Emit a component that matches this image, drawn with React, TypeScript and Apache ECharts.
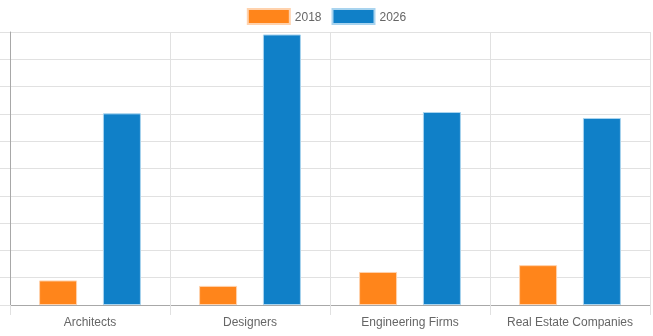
import React, { useEffect, useRef } from "react";
import * as echarts from "echarts";

const categories = ["Architects", "Designers", "Engineering Firms", "Real Estate Companies"];
const seriesNames = ["2018", "2026"];
const values2018 = [9, 7, 12.1, 14.6];
const values2026 = [70.2, 99.1, 70.7, 68.5];

export default function App() {
  const ref = useRef<HTMLDivElement>(null);
  useEffect(() => {
    if (!ref.current) return;
    const chart = echarts.init(ref.current, undefined, { renderer: "svg" });
    const gridColor = "#e1e1e1";
    const axisColor = "#a8a8a8";
    const font = "Arial, 'Liberation Sans', sans-serif";
    chart.setOption({
      animation: false,
      legend: {
        top: 3,
        left: "center",
        icon: "rect",
        itemWidth: 42,
        itemHeight: 15,
        itemGap: 10,
        textStyle: { color: "#666", fontSize: 12, fontFamily: font },
        data: seriesNames,
      },
      grid: { left: 10, right: 3, top: 32, bottom: 31, containLabel: false },
      xAxis: {
        type: "category",
        data: categories,
        axisLine: { show: true, lineStyle: { color: axisColor } },
        axisTick: { show: true, length: 10, lineStyle: { color: gridColor } },
        splitLine: { show: true, lineStyle: { color: gridColor } },
        axisLabel: { color: "#666", fontSize: 12, fontFamily: font, margin: 11, interval: 0 },
      },
      yAxis: {
        type: "value",
        min: 0,
        max: 100,
        interval: 10,
        axisLine: { show: true, lineStyle: { color: axisColor } },
        axisTick: { show: true, length: 10, lineStyle: { color: gridColor } },
        splitLine: { show: true, lineStyle: { color: gridColor } },
        axisLabel: { show: false },
      },
      series: [
        {
          name: seriesNames[0],
          type: "bar",
          data: values2018,
          barWidth: 38,
          barGap: "68%",
          itemStyle: { color: "#ff851b", borderColor: "#ffd2ad", borderWidth: 1 },
        },
        {
          name: seriesNames[1],
          type: "bar",
          data: values2026,
          barWidth: 38,
          barGap: "68%",
          itemStyle: { color: "#1080c8", borderColor: "#a9d4ef", borderWidth: 1 },
        },
      ],
    });
    return () => chart.dispose();
  }, []);
  return (
    <div
      ref={ref}
      style={{ position: "fixed", left: 0, top: 0, width: 653, height: 336 }}
    />
  );
}
